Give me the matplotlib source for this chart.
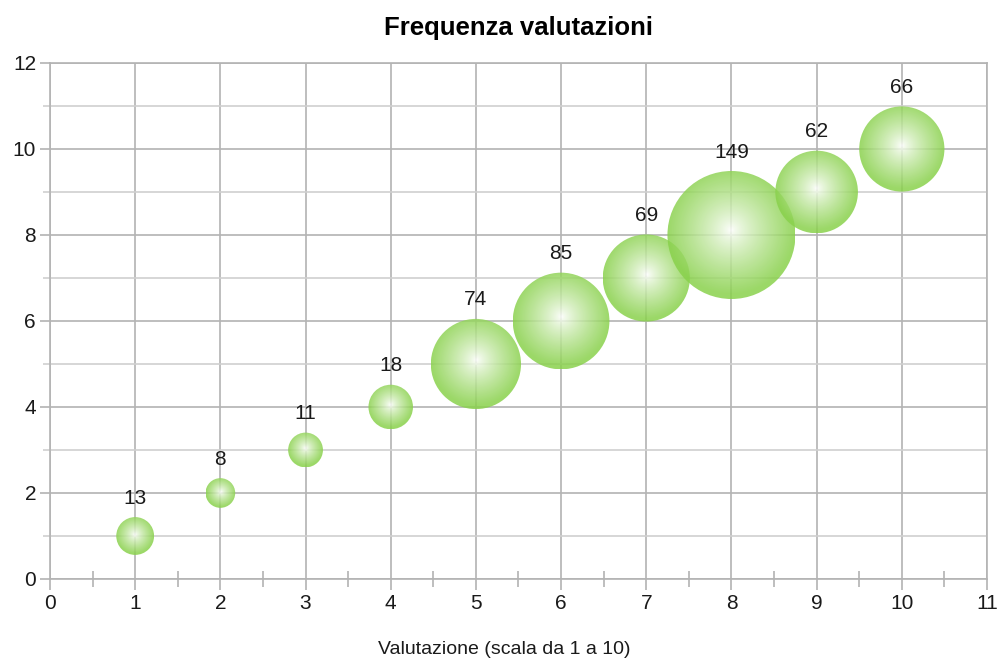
import numpy as np
import matplotlib.pyplot as plt
from matplotlib.patches import Ellipse
from matplotlib.ticker import MultipleLocator

plt.rcParams['font.family'] = ['Liberation Sans', 'DejaVu Sans']

# dati
valutazione = [1, 2, 3, 4, 5, 6, 7, 8, 9, 10]
posizione_y = [1, 2, 3, 4, 5, 6, 7, 8, 9, 10]
frequenza = [13, 8, 11, 18, 74, 85, 69, 149, 62, 66]

W, H, DPI = 1003, 664, 100
fig = plt.figure(figsize=(W / DPI, H / DPI), dpi=DPI)
ax = fig.add_axes([50 / W, 85 / H, 937 / W, 516 / H])
ax.set_xlim(0, 11)
ax.set_ylim(0, 12)

grigio = '#b3b3b3'
testo = '#1a1a1a'
ax.xaxis.set_major_locator(MultipleLocator(1))
ax.xaxis.set_minor_locator(MultipleLocator(0.5))
ax.yaxis.set_major_locator(MultipleLocator(2))
ax.yaxis.set_minor_locator(MultipleLocator(1))
ax.grid(True, which='major', axis='both', color=grigio, lw=1.2)
ax.grid(True, which='minor', axis='y', color='#cfcfcf', lw=1.2)
ax.set_axisbelow(True)
for s in ax.spines.values():
    s.set_color(grigio)
    s.set_linewidth(1.2)
ax.tick_params(axis='x', which='major', direction='out', length=8, color=grigio, width=1.2,
               labelsize=15, pad=3, labelcolor=testo)
ax.tick_params(axis='x', which='minor', direction='inout', length=11, color=grigio, width=1.2)
ax.tick_params(axis='y', which='major', direction='out', length=7, color=grigio, width=1.2,
               labelsize=15, pad=3, labelcolor=testo)
ax.tick_params(axis='y', which='minor', direction='out', length=5, color='#cfcfcf', width=1.2)

# bolle con gradiente radiale
r_max = 64.0  # pixel per il valore massimo
px_x = ax.get_position().width * W / 11
px_y = ax.get_position().height * H / 12
n = 200
g = np.linspace(-1, 1, n)
gx, gy = np.meshgrid(g, g)
d = np.clip(np.sqrt(gx ** 2 + (gy - 0.08) ** 2), 0, 1)
verde = np.array([0.54, 0.82, 0.30])
bianco = np.array([1.0, 1.0, 1.0])
t = np.clip(d ** 0.8, 0, 1)
img = np.zeros((n, n, 4))
for k in range(3):
    img[..., k] = bianco[k] * (1 - t) + verde[k] * t
img[..., 3] = 0.85

for x, y, v in zip(valutazione, posizione_y, frequenza):
    r = r_max * np.sqrt(v / max(frequenza))
    rx, ry = r / px_x, r / px_y
    clip = Ellipse((x, y), 2 * rx, 2 * ry, transform=ax.transData, fc='none', ec='none')
    ax.add_patch(clip)
    im = ax.imshow(img, extent=(x - rx, x + rx, y - ry, y + ry), origin='lower',
                   interpolation='bilinear', zorder=3, aspect='auto')
    im.set_clip_path(clip)
    ax.annotate(str(v), (x, y), xytext=(0, (r + 19) * 0.72), textcoords='offset points',
                ha='center', va='center', fontsize=15, color=testo, zorder=4)

ax.set_xlim(0, 11)
ax.set_ylim(0, 12)
ax.set_title('Frequenza valutazioni', fontsize=18.5, fontweight='bold', pad=20, color='#000000')
ax.set_xlabel('Valutazione (scala da 1 a 10)', fontsize=14, color=testo)
ax.xaxis.set_label_coords(0.485, -0.12)

fig.savefig('out.png', dpi=DPI)
